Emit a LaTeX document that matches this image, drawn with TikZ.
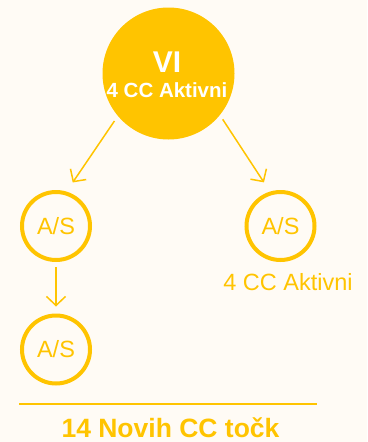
\documentclass[tikz,border=0pt]{standalone}
\usepackage{fontspec}
\setmainfont{Liberation Sans}
\usetikzlibrary{arrows.meta}
\definecolor{gold}{RGB}{255,196,0}
\definecolor{bg}{RGB}{255,251,245}
\begin{document}
\begin{tikzpicture}[x=1pt,y=-1pt,
  bigc/.style={circle,fill=gold,minimum size=132pt,inner sep=0pt},
  smallc/.style={circle,draw=gold,line width=4pt,fill=bg,minimum size=68pt,inner sep=0pt,
    text=gold,font=\fontsize{23.5}{26}\selectfont},
  arr/.style={draw=gold,line width=1.5pt,-{Straight Barb[length=9pt,width=19pt]}},
  lbl/.style={text=gold,inner sep=0pt}]
\fill[bg] (0,0) rectangle (367,442);
\useasboundingbox (0,0) rectangle (367,442);
\node[bigc] (big) at (168.5,73.5) {};
\node[text=white,inner sep=0pt,font=\fontsize{30}{32}\selectfont\bfseries] (vi) at (167,62.5) {VI};
\node[text=white,inner sep=0pt,font=\fontsize{20.5}{22}\selectfont\bfseries] (bigtxt) at (167,90) {4 CC Aktivni};
\node[smallc] (l1) at (56,226) {A/S};
\node[smallc] (r1) at (280.5,226) {A/S};
\node[smallc] (l2) at (56,349.5) {A/S};
\node[lbl,font=\fontsize{23.5}{26}\selectfont] (rtxt) at (288,282) {4 CC Aktivni};
\draw[arr,shorten <=6pt,shorten >=11pt] (big.-140.7) -- (l1.73);
\draw[arr,shorten <=5pt,shorten >=11pt] (big.-39.9) -- (r1.107.9);
\draw[arr,shorten <=5pt,shorten >=7pt] (l1.south) -- (l2.north);
\draw[gold,line width=2pt] (19,404.3) -- (317,404.3);
\node[lbl,font=\fontsize{26.5}{28}\selectfont\bfseries] (total) at (170.5,428) {14 Novih CC točk};
\end{tikzpicture}
\end{document}
